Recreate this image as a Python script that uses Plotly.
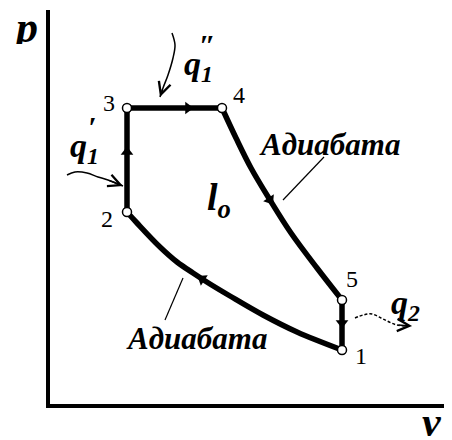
import plotly.graph_objects as go

# ---- cycle data (v, p in arbitrary units) ----
v_23 = [1.925, 1.925]
p_23 = [4.8, 7.4]
v_34 = [1.925, 4.3]
p_34 = [7.4, 7.4]
v_45 = [4.3, 4.65, 5.025, 5.5, 6.025, 6.675, 7.3]
p_45 = [7.4, 6.65, 5.9, 5.1, 4.275, 3.4, 2.6]
v_51 = [7.3, 7.3]
p_51 = [2.6, 1.35]
v_12 = [7.3, 6.175, 5.325, 4.5, 4.0, 3.575, 3.175, 2.75, 2.175, 1.925]
p_12 = [1.35, 1.8, 2.225, 2.7, 3.0, 3.275, 3.55, 3.925, 4.525, 4.8]

pt_labels = ["1", "2", "3", "4", "5"]
pt_v = [7.3, 1.925, 1.925, 4.3, 7.3]
pt_p = [1.35, 4.8, 7.4, 7.4, 2.6]
lbl_v = [7.775, 1.425, 1.475, 4.725, 7.55]
lbl_p = [1.2, 4.625, 7.525, 7.725, 3.125]

# direction arrows on the cycle
arr_v = [1.925, 3.45, 5.5, 7.3, 3.8]
arr_p = [6.3, 7.4, 5.1, 2.025, 3.125]
arr_ang = [0, 90, 147, 180, 303]

# heat flow arrows
q1a_v = [0.425, 0.625, 0.925, 1.2, 1.45, 1.825]
q1a_p = [5.725, 5.8, 5.775, 5.675, 5.6, 5.45]
q1b_v = [3.05, 3.125, 3.075, 2.95, 2.825, 2.75]
q1b_p = [9.275, 8.975, 8.65, 8.225, 7.9, 7.675]
q2_v = [7.625, 7.825, 8.05, 8.325, 8.675, 9.05]
q2_p = [2.15, 2.225, 2.25, 2.125, 1.975, 1.95]

# leader lines for "Адиабата"
lead_top_v = [6.85, 5.825]
lead_top_p = [6.175, 5.1]
lead_bot_v = [3.325, 2.875]
lead_bot_p = [3.15, 2.1]

BLACK = "#000000"
fig = go.Figure()

for vv, pp, shp in [(v_23, p_23, "linear"), (v_34, p_34, "linear"),
                    (v_45, p_45, "spline"), (v_51, p_51, "linear"),
                    (v_12, p_12, "spline")]:
    fig.add_trace(go.Scatter(x=vv, y=pp, mode="lines",
                             line=dict(color=BLACK, width=5.5, shape=shp),
                             hoverinfo="skip", showlegend=False))

for vv, pp in [(lead_top_v, lead_top_p), (lead_bot_v, lead_bot_p)]:
    fig.add_trace(go.Scatter(x=vv, y=pp, mode="lines",
                             line=dict(color=BLACK, width=1.2),
                             hoverinfo="skip", showlegend=False))

for vv, pp, dash in [(q1a_v, q1a_p, "solid"), (q1b_v, q1b_p, "solid"),
                     (q2_v, q2_p, "3px,2px")]:
    fig.add_trace(go.Scatter(x=vv, y=pp, mode="lines",
                             line=dict(color=BLACK, width=1.5, shape="spline",
                                       dash=dash),
                             hoverinfo="skip", showlegend=False))

fig.add_trace(go.Scatter(x=arr_v, y=arr_p, mode="markers",
                         marker=dict(symbol="triangle-up", size=11,
                                     color=BLACK, angle=arr_ang,
                                     line=dict(width=0)),
                         hoverinfo="skip", showlegend=False))

fig.add_trace(go.Scatter(x=pt_v, y=pt_p, mode="markers",
                         marker=dict(symbol="circle", size=9, color="white",
                                     line=dict(color=BLACK, width=1.5)),
                         hoverinfo="skip", showlegend=False))

ann = []
# heads of heat-flow arrows
for vv, pp in [(q1a_v, q1a_p), (q1b_v, q1b_p), (q2_v, q2_p)]:
    ann.append(dict(x=vv[-1], y=pp[-1], ax=vv[-2], ay=pp[-2],
                    xref="x", yref="y", axref="x", ayref="y",
                    showarrow=True, arrowhead=5, arrowsize=1.6,
                    arrowwidth=1.5, arrowcolor=BLACK, text=""))

SERIF = "Liberation Serif"
for t, x, y in zip(pt_labels, lbl_v, lbl_p):
    ann.append(dict(x=x, y=y, xref="x", yref="y", text=t, showarrow=False,
                    font=dict(family=SERIF, size=24, color=BLACK)))

def bi(text, x, y, size, ref="x", h=None):
    d = dict(x=x, y=y, xref=ref, yref=("y" if ref == "x" else "paper"),
             xanchor="center", yanchor="middle",
             text="<b><i>" + text + "</i></b>", showarrow=False,
             font=dict(family=SERIF, size=size, color=BLACK))
    if h is not None:
        d["height"] = h
        d["valign"] = "middle"
    return d

ann.append(bi("Адиабата", 6.975, 6.5, 31))
ann.append(bi("Адиабата", 3.65, 1.65, 31))
ann.append(bi("l<sub>o</sub>", 4.225, 5.1, 38))
ann.append(bi("q<sub>1</sub>", 3.7, 8.45, 34))
ann.append(bi("″", 3.925, 9.0, 30))
ann.append(bi("q<sub>1</sub>", 0.85, 6.4, 34))
ann.append(bi("′", 1.05, 6.95, 30))
ann.append(bi("q<sub>2</sub>", 8.875, 2.475, 34))
ann.append(bi("p", -0.062, 0.957, 44, ref="paper", h=34))
ann.append(bi("v", 0.95, -0.045, 42, ref="paper", h=30))

# page body has an 8px margin: figure sized to fill the rest of the window
fig.update_layout(
    width=444, height=432,
    margin=dict(l=42, r=0, t=2, b=36),
    paper_bgcolor="white", plot_bgcolor="white",
    xaxis=dict(range=[0, 10.05], showline=True, linewidth=3.5,
               linecolor=BLACK, showgrid=False, zeroline=False,
               showticklabels=False, ticks=""),
    yaxis=dict(range=[0, 9.85], showline=True, linewidth=3.5,
               linecolor=BLACK, showgrid=False, zeroline=False,
               showticklabels=False, ticks=""),
    annotations=ann,
)

fig.write_html("out.html")
